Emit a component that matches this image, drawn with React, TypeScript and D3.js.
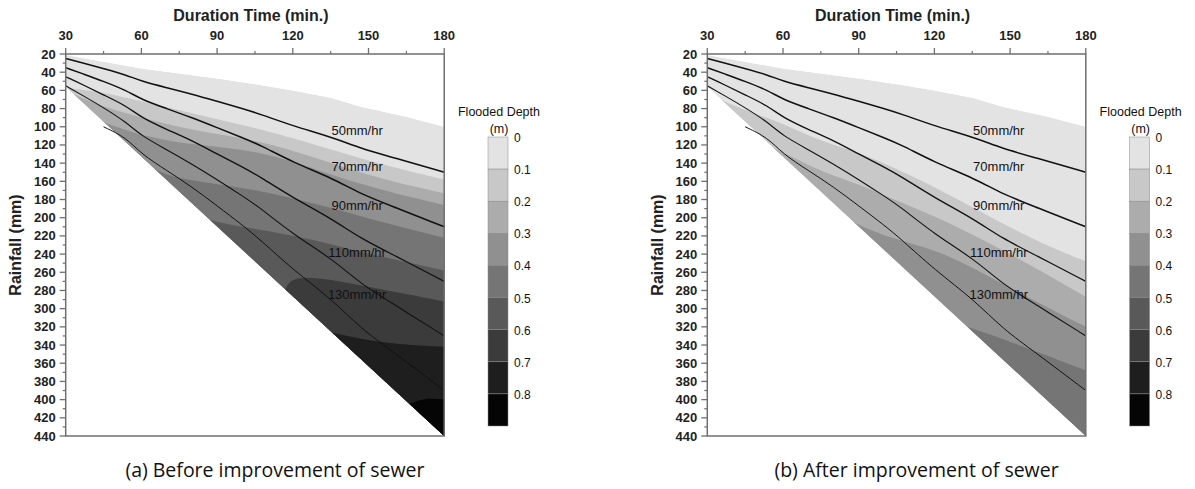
import React from 'react';
import * as d3 from 'd3';

// ---------- data ----------
const durationTicks = [30, 60, 90, 120, 150, 180];
const durationMinor = [45, 75, 105, 135, 165];
const rainfallTicks = [20, 40, 60, 80, 100, 120, 140, 160, 180, 200, 220, 240, 260, 280, 300, 320, 340, 360, 380, 400, 420, 440];
const rainfallMinor = [30, 50, 70, 90, 110, 130, 150, 170, 190, 210, 230, 250, 270, 290, 310, 330, 350, 370, 390, 410, 430];

const depthLevels = ['0', '0.1', '0.2', '0.3', '0.4', '0.5', '0.6', '0.7', '0.8'];
const depthColors = ['#e3e3e3', '#c8c8c8', '#acacac', '#909090', '#757575', '#595959', '#3b3b3b', '#1e1e1e', '#050505'];

// rainfall-intensity lines (duration min -> rainfall mm)
const intensityNames = ['50mm/hr', '70mm/hr', '90mm/hr', '110mm/hr', '130mm/hr'];
const durations = [30, 37, 45, 54, 60, 70, 80, 90, 100, 107, 120, 136, 147, 160, 180];
const rain50 = [25, 30, 36, 43, 50, 57, 64, 72, 80, 86, 99, 112, 124, 134, 150];
const rain70 = [35, 42, 50, 60, 70, 80, 90, 101, 112, 120, 139, 157, 174, 188, 210];
const rain90 = [45, 54, 65, 77, 90, 103, 115, 130, 144, 155, 178, 202, 223, 241, 270];
const rain110 = [55, 66, 79, 95, 110, 125, 141, 158, 176, 189, 218, 246, 273, 295, 330];
const durations130 = [45, 54, 60, 70, 80, 90, 100, 107, 120, 136, 147, 160, 180];
const rain130 = [100, 112, 130, 148, 166, 187, 208, 224, 257, 291, 322, 348, 390];
const intensityWidths = [1.5, 1.5, 1.3, 1.1, 1.0];
const labelDuration = 145.5;
const labelRainfall = [104, 144, 187, 238, 284];

// region of computed results
const topEdge: [number, number][] = [[30, 21], [60, 36], [90, 47], [107, 54], [120, 60], [135, 68], [147, 78], [165, 89], [180, 100]];
const lowerEdge: [number, number][] = [[30, 56], [180, 440]];

// (a) before improvement: depth contour boundaries
const before01: [number, number][] = [[30, 57], [45, 62], [60, 72], [80, 85], [103, 100], [120, 112], [150, 138], [180, 158]];
const before02: [number, number][] = [[33, 64], [45, 78], [60, 90], [80, 104], [107, 115], [130, 135], [155, 158], [180, 173]];
const before03: [number, number][] = [[44, 94], [60, 110], [80, 120], [107, 126], [130, 148], [155, 170], [180, 186]];
const before04: [number, number][] = [[63, 142], [70, 155], [90, 163], [107, 170], [130, 185], [155, 205], [180, 222]];
const before05: [number, number][] = [[84, 200], [95, 208], [107, 213], [125, 222], [150, 240], [180, 258]];
const before06: [number, number][] = [[117, 279], [119, 268], [125, 265], [135, 268], [150, 276], [180, 292]];
const before07: [number, number][] = [[135, 326], [150, 335], [165, 340], [180, 342]];
const before08: [number, number][] = [[166, 405], [172, 398], [180, 400]];

// (b) after improvement
const after01: [number, number][] = [[35, 70], [45, 82], [60, 96], [73, 114], [90, 128], [104, 145], [120, 166], [142, 199], [162, 228], [180, 248]];
const after02: [number, number][] = [[56, 123], [65, 135], [76, 150], [90, 163], [104, 180], [120, 198], [140, 225], [160, 255], [180, 287]];
const after03: [number, number][] = [[85, 200], [90, 208], [102, 222], [122, 236], [142, 265], [162, 295], [180, 320]];
const after04: [number, number][] = [[132, 319], [149, 335], [165, 352], [180, 368]];

const captions = ['(a) Before improvement of sewer', '(b) After improvement of sewer'];

// ---------- layout ----------
const W = 1195, H = 489;
const plotTop = 54, plotBottom = 436, plotW = 378.5;
const panelLefts = [65.7, 707.3];
const FONT = 'Arial, "Liberation Sans", Helvetica, sans-serif';

const intensitySeries = [
  durations.map((d, i) => [d, rain50[i]] as [number, number]),
  durations.map((d, i) => [d, rain70[i]] as [number, number]),
  durations.map((d, i) => [d, rain90[i]] as [number, number]),
  durations.map((d, i) => [d, rain110[i]] as [number, number]),
  durations130.map((d, i) => [d, rain130[i]] as [number, number]),
];

const panelBands = [
  [before01, before02, before03, before04, before05, before06, before07, before08],
  [after01, after02, after03, after04],
];

function Panel({ idx }: { idx: number }) {
  const left = panelLefts[idx];
  const x = d3.scaleLinear().domain([30, 180]).range([left, left + plotW]);
  const y = d3.scaleLinear().domain([20, 440]).range([plotTop, plotBottom]);
  const line = d3.line<[number, number]>().x(p => x(p[0])).y(p => y(p[1])).curve(d3.curveBasis);
  const straight = d3.line<[number, number]>().x(p => x(p[0])).y(p => y(p[1]));
  const wedge = straight([...topEdge, ...lowerEdge.slice().reverse()]) + 'Z';
  const clipId = `wedge-${idx}`;
  const bands = panelBands[idx];
  const axisColor = '#6f6f6f';
  const legendX = left + 422.3;
  const legendTop = 137, legendBottom = 426;
  const ly = d3.scaleLinear().domain([0, depthLevels.length]).range([legendTop, legendBottom]);
  const cx = (x(30) + x(180)) / 2;

  return (
    <g>
      <defs>
        <clipPath id={clipId}><path d={wedge} /></clipPath>
      </defs>
      <g clipPath={`url(#${clipId})`}>
        <path d={wedge} fill={depthColors[0]} />
        {bands.map((b, i) => (
          <path key={i}
            d={line(b) + `L${x(180) + 2},${y(440) + 2}L${x(b[0][0])},${y(440) + 2}Z`}
            fill={depthColors[i + 1]} />
        ))}
      </g>
      {intensitySeries.map((s, i) => (
        <path key={i} d={line(s) || ''} fill="none" stroke="#111" strokeWidth={intensityWidths[i]} />
      ))}
      {intensityNames.map((n, i) => (
        <text key={n} x={x(labelDuration)} y={y(labelRainfall[i])} textAnchor="middle" dominantBaseline="central"
          fontFamily={FONT} fontSize={13} fill="#111">{n}</text>
      ))}
      {/* frame */}
      <rect x={x(30)} y={y(20)} width={x(180) - x(30)} height={y(440) - y(20)} fill="none" stroke={axisColor} strokeWidth={1.5} />
      {/* top axis ticks */}
      {durationTicks.map(t => (
        <g key={t}>
          <line x1={x(t)} x2={x(t)} y1={plotTop} y2={plotTop - 6} stroke={axisColor} strokeWidth={1.3} />
          <text x={x(t)} y={40} textAnchor="middle" fontFamily={FONT} fontWeight="bold" fontSize={13} fill="#222">{t}</text>
        </g>
      ))}
      {durationMinor.map(t => (
        <line key={t} x1={x(t)} x2={x(t)} y1={plotTop} y2={plotTop - 3} stroke={axisColor} strokeWidth={1.2} />
      ))}
      {/* left axis ticks */}
      {rainfallTicks.map(t => (
        <g key={t}>
          <line x1={left} x2={left - 6} y1={y(t)} y2={y(t)} stroke={axisColor} strokeWidth={1.3} />
          <text x={left - 10} y={y(t)} textAnchor="end" dominantBaseline="central" fontFamily={FONT} fontWeight="bold" fontSize={13} fill="#222">{t}</text>
        </g>
      ))}
      {rainfallMinor.map(t => (
        <line key={t} x1={left} x2={left - 3} y1={y(t)} y2={y(t)} stroke={axisColor} strokeWidth={1.2} />
      ))}
      <text x={cx - 4} y={21} textAnchor="middle" fontFamily={FONT} fontWeight="bold" fontSize={16} fill="#222">Duration Time (min.)</text>
      <text transform={`translate(${left - 50},245) rotate(-90)`} textAnchor="middle" dominantBaseline="central"
        fontFamily={FONT} fontWeight="bold" fontSize={16} fill="#222">Rainfall (mm)</text>
      {/* legend */}
      <text x={legendX + 11} y={116} textAnchor="middle" fontFamily={FONT} fontSize={12.5} fill="#111">Flooded Depth</text>
      <text x={legendX + 11} y={133} textAnchor="middle" fontFamily={FONT} fontSize={12.5} fill="#111">(m)</text>
      {depthLevels.map((lv, i) => (
        <g key={lv}>
          <rect x={legendX} y={ly(i)} width={20} height={ly(i + 1) - ly(i)} fill={depthColors[i]} stroke="#8a8a8a" strokeWidth={0.5} />
          <text x={legendX + 26} y={ly(i) + 1} dominantBaseline="central" fontFamily={FONT} fontSize={12} fill="#111">{lv}</text>
        </g>
      ))}
      <text x={cx + 20} y={477} textAnchor="middle" fontFamily='"Open Sans", "Noto Sans", sans-serif' fontSize={19.5} fill="#111">{captions[idx]}</text>
    </g>
  );
}

export default function App() {
  return (
    <svg width={W} height={H} style={{ position: 'absolute', left: 0, top: 0, background: '#fff' }}>
      <rect width={W} height={H} fill="#fff" />
      <Panel idx={0} />
      <Panel idx={1} />
    </svg>
  );
}
